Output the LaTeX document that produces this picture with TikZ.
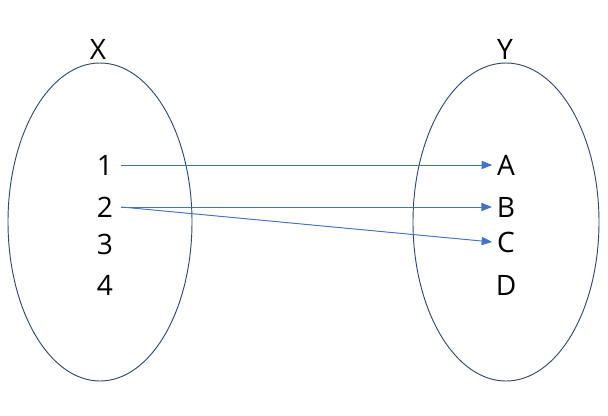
\documentclass[tikz,border=0pt]{standalone}
\usepackage{fontspec}
\setmainfont{Open Sans}
\usetikzlibrary{positioning, arrows.meta}
\definecolor{setline}{HTML}{2F4A70}
\definecolor{maparrow}{HTML}{4472C4}

\begin{document}
\begin{tikzpicture}[
      x=0.03cm, y=-0.03cm,
      % Styling nodes
      setline/.style={draw=setline, line width=0.8pt},
      elem/.style={font=\fontsize{24}{28}\selectfont, inner sep=2pt},
      title/.style={font=\fontsize{24}{28}\selectfont, inner sep=0pt},
      arrow/.style={-{Triangle[length=9pt, width=7pt]}, draw=maparrow, fill=maparrow, line width=0.8pt}
    ]
    \useasboundingbox (0,0) rectangle (608,416);

    % The two sets
    \draw[setline] (100,222) ellipse [x radius=92, y radius=159];
    \draw[setline] (506,222) ellipse [x radius=93, y radius=159];
    \node (setx) [title] at (98,49) {X};
    \node (sety) [title] at (505,49) {Y};

    % Elements of X
    \node (n1) [elem] at (105,165) {1};
    \node (n2) [elem] at (105,207) {2};
    \node (n3) [elem] at (105,244) {3};
    \node (n4) [elem] at (105,285) {4};

    % Elements of Y
    \node (a) [elem] at (506,165) {A};
    \node (b) [elem] at (506,207) {B};
    \node (c) [elem] at (506,242) {C};
    \node (d) [elem] at (506,285) {D};

    % Arrows
    \draw[arrow] ([xshift=5pt]n1.east) -- ([xshift=-2pt]a.west);
    \draw[arrow] ([xshift=5pt]n2.east) -- ([xshift=-2pt]b.west);
    \draw[arrow] ([xshift=5pt]n2.east) -- ([xshift=-2pt]c.west);

  \end{tikzpicture}
\end{document}
